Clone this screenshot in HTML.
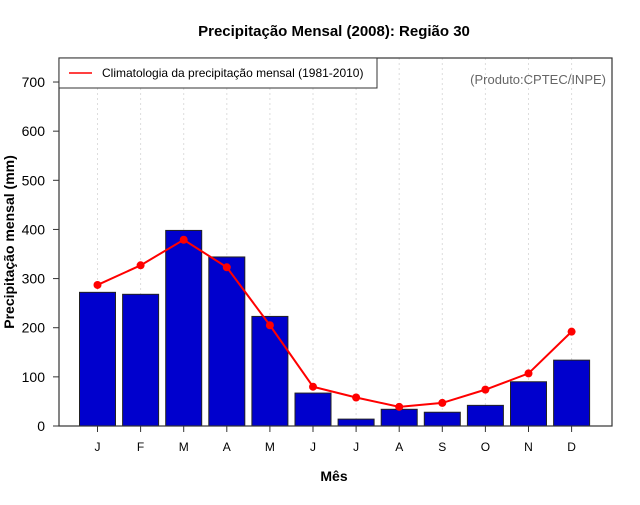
<!DOCTYPE html>
<html><head><meta charset="utf-8"><style>
body{margin:0;background:#fff;}
svg text{font-family:"Liberation Sans",sans-serif;}
</style></head><body>
<svg id="c" width="640" height="500" xmlns="http://www.w3.org/2000/svg">
<rect width="640" height="500" fill="#fff"/>
<text x="334" y="36" text-anchor="middle" font-size="15" font-weight="bold">Precipitação Mensal (2008): Região 30</text>
<text x="334" y="481" text-anchor="middle" font-size="14" font-weight="bold">Mês</text>
<text transform="translate(14,242) rotate(-90)" text-anchor="middle" font-size="14" font-weight="bold">Precipitação mensal (mm)</text>
<g id="grid"></g>
<g id="bars"></g>
<g id="line"></g>
<g id="axes"></g>
<rect x="59" y="58" width="553" height="368" fill="none" stroke="#333" stroke-width="1.2"/>
<g>
<rect x="59" y="58" width="318" height="30" fill="#fff" stroke="#333" stroke-width="1"/>
<line x1="69" y1="73" x2="92" y2="73" stroke="#f00" stroke-width="1.5"/>
<text x="102" y="77" font-size="12">Climatologia da precipitação mensal (1981-2010)</text>
</g>
<text x="606" y="84" text-anchor="end" font-size="13" fill="#666">(Produto:CPTEC/INPE)</text>
</svg>
<script>
const months=["J","F","M","A","M","J","J","A","S","O","N","D"];
const observed=[272,268,398,344,223,67,14,34,28,42,90,134];
const climatology=[287,327,379,323,205,80,58,39,47,74,107,192];
const yTicks=[0,100,200,300,400,500,600,700];
const NS="http://www.w3.org/2000/svg";
function xs(i){return 97.5+i*43.1;}
function ys(v){return 426-v*0.4914;}
function mk(t,a,p){const e=document.createElementNS(NS,t);for(const k in a)e.setAttribute(k,a[k]);document.getElementById(p).appendChild(e);return e;}
months.forEach((m,i)=>{
 const g=mk("line",{x1:xs(i),x2:xs(i),y1:58,y2:426,stroke:"#ddd","stroke-dasharray":"2,3"},"grid");
 
 
 const b=mk("rect",{x:xs(i)-18,y:ys(observed[i]),width:36,height:426-ys(observed[i]),fill:"#0000cd",stroke:"#222","stroke-width":1},"bars");
 
 
 const t=mk("line",{x1:xs(i),x2:xs(i),y1:426,y2:432,stroke:"#333"},"axes");
 
 
 const l=mk("text",{x:xs(i),y:451,"text-anchor":"middle","font-size":12},"axes");
 l.textContent=m;
 
 
});
const pl=mk("polyline",{points:climatology.map((v,i)=>xs(i)+","+ys(v)).join(" "),fill:"none",stroke:"#f00","stroke-width":2},"line");


climatology.forEach((v,i)=>{
 const c=mk("circle",{cx:xs(i),cy:ys(v),r:4,fill:"#f00"},"line");
 
 
});
yTicks.forEach(v=>{
 const t=mk("line",{x1:53,x2:59,y1:ys(v),y2:ys(v),stroke:"#333"},"axes");
 
 
 const l=mk("text",{x:45,y:ys(v)+5,"text-anchor":"end","font-size":14},"axes");
 l.textContent=v;
 
 
});
</script>
</body></html>
